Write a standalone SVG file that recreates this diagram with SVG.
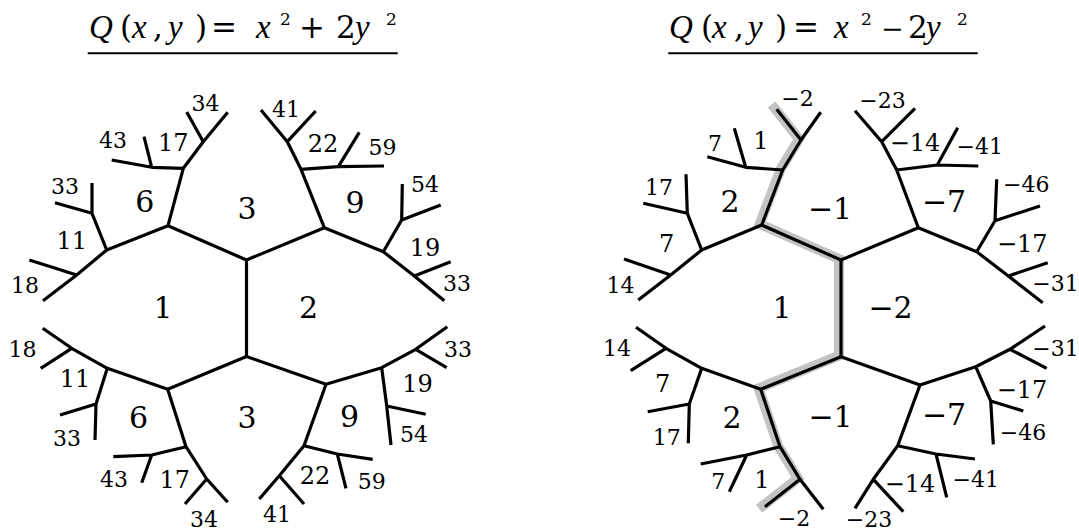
<svg xmlns="http://www.w3.org/2000/svg" width="1079" height="531" viewBox="0 0 1079 531">
<style>
.e{fill:none;stroke:#000;stroke-width:3.2;stroke-linejoin:round;stroke-linecap:butt}
.hl{fill:none;stroke:#c3c3c3;stroke-width:10;stroke-linejoin:miter;stroke-linecap:square}
.t{font-family:"DejaVu Serif",serif;fill:#000;text-anchor:middle}
.big{font-size:30px}
.mid{font-size:24px}
.lf{font-size:22px}
.ti{font-family:"DejaVu Serif",serif;font-size:31px;fill:#000}
.it{font-family:"Liberation Serif",serif;font-style:italic;font-size:33px}
.sup{font-size:17px}
.ul{stroke:#000;stroke-width:2}
</style>
<rect width="1079" height="531" fill="#fff"/>
<g id="title-left">
<text class="ti" y="38"><tspan class="it" x="89">Q</tspan><tspan x="120">(</tspan><tspan class="it" x="132">x</tspan><tspan x="153">,</tspan><tspan class="it" x="168">y</tspan><tspan x="195">)</tspan><tspan x="211">=</tspan><tspan class="it" x="256">x</tspan><tspan class="sup" x="280" y="25">2</tspan><tspan x="299" y="38">+</tspan><tspan x="336">2</tspan><tspan class="it" x="355">y</tspan><tspan class="sup" x="386" y="25">2</tspan></text>
<line class="ul" x1="87.7" y1="53.3" x2="397.7" y2="53.3"/>
</g>
<g id="title-right">
<text class="ti" y="38"><tspan class="it" x="669">Q</tspan><tspan x="701">(</tspan><tspan class="it" x="712">x</tspan><tspan x="734">,</tspan><tspan class="it" x="748">y</tspan><tspan x="775">)</tspan><tspan x="793">=</tspan><tspan class="it" x="834">x</tspan><tspan class="sup" x="861" y="25">2</tspan><tspan x="881" y="38" font-size="27">−</tspan><tspan x="908">2</tspan><tspan class="it" x="926">y</tspan><tspan class="sup" x="957" y="25">2</tspan></text>
<line class="ul" x1="668.3" y1="53.3" x2="977.7" y2="53.3"/>
</g>
<g id="highlight">
<path class="hl" transform="translate(-2,-1)" d="M776.7,109.3 L801,140 L782.7,170 L761.7,225 L841,260 L841,356.7 L760.7,389.3 L780,446.7 L800,479.3 L765,506.7"/>
</g>
<g id="connectors">
<path class="e" d="M246.5,260 L246.5,356.5"/>
<path class="e" d="M246.5,260 L168,225.7 L106.7,250 L76.7,275 L43,300.7 M76.7,275 L29.3,260 M106.7,250 L92,213.3 L92,183 M92,213.3 L55,202.7 M168,225.7 L183.3,168.3 L203.3,141.7 L186.7,112 M203.3,141.7 L227.7,112.3 M183.3,168.3 L151.7,167.3 L111.7,160 M151.7,167.3 L144,136.7"/>
<path class="e" d="M246.5,260 L324.3,227.7 L301,169.3 L287.3,141.7 L261,110 M287.3,141.7 L315.7,111 M301,169.3 L338.3,166.7 L384,166 M338.3,166.7 L359.3,132.3 M324.3,227.7 L383.3,251.7 L401.7,220 L402.3,184 M401.7,220 L440.7,205 M383.3,251.7 L414.3,276 L450.7,261.7 M414.3,276 L444.3,300.7"/>
<path class="e" d="M246.5,356.5 L167.7,389.3 L107.3,368.3 L71.7,348.3 L42.7,328.3 M71.7,348.3 L40.7,368.3 M107.3,368.3 L96,404 L95,440 M96,404 L60,415 M167.7,389.3 L186,446.7 L206.7,479 L227.7,502.3 M206.7,479 L185,504 M186,446.7 L151.7,455 L113.3,456.7 M151.7,455 L141.7,482.7"/>
<path class="e" d="M246.5,356.5 L326,384.3 L304,445.7 L279.3,475.7 L259.3,499 M279.3,475.7 L304,504 M304,445.7 L337.3,454 L372.7,459.3 M337.3,454 L346,488.3 M326,384.3 L381.7,367.7 L386.7,406 L391,445 M386.7,406 L425.7,414.3 M381.7,367.7 L415.7,349.3 L447.3,326.7 M415.7,349.3 L446.7,367.7"/>
<path class="e" d="M841,260 L841,356.7"/>
<path class="e" d="M841,260 L761.7,225 L701.7,250 L670.7,275 L638.3,300 M670.7,275 L624,259 M701.7,250 L687.3,213.3 L686,174.3 M687.3,213.3 L643.3,203.3 M761.7,225 L782.7,170 L801,140 L776.7,109.3 M801,140 L820.7,112.3 M782.7,170 L745.7,167.3 L707.3,156.7 M745.7,167.3 L734.3,128.3"/>
<path class="e" d="M841,260 L918.3,227.7 L896.7,170 L881.7,141.7 L855,110.7 M881.7,141.7 L915,108.3 M896.7,170 L937.3,165 L978.3,166 M937.3,165 L957.7,127.7 M918.3,227.7 L976.7,251.7 L995,220.7 L996.7,179.3 M995,220.7 L1040,206 M976.7,251.7 L1008.3,276 L1047.7,262.7 M1008.3,276 L1042.7,302.7"/>
<path class="e" d="M841,356.7 L760.7,389.3 L701.7,368.3 L666,348.3 L636,327.3 M666,348.3 L630.7,370.7 M701.7,368.3 L689.3,404 L688.3,443.3 M689.3,404 L647.7,411.7 M760.7,389.3 L780,446.7 L800,479.3 L823.3,509.3 M800,479.3 L765,506.7 M780,446.7 L746.7,455 L700.7,464 M746.7,455 L729.3,491.7"/>
<path class="e" d="M841,356.7 L920,385 L897.7,445.7 L873.3,479.3 L855,508.3 M873.3,479.3 L903.3,511.7 M897.7,445.7 L936,454 L975,459 M936,454 L946.7,497.3 M920,385 L975.7,366.7 L990.7,401 L993.3,444.3 M990.7,401 L1023.3,411 M975.7,366.7 L1010,349.3 L1045,326 M1010,349.3 L1046.7,368.3"/>
</g>
<g id="L1"><text class="t big" x="163" y="318">1</text></g>
<g id="L2"><text class="t big" x="308.5" y="318">2</text></g>
<g id="L3a"><text class="t big" x="247" y="219.3">3</text></g>
<g id="L3b"><text class="t big" x="247" y="427.7">3</text></g>
<g id="L6a"><text class="t big" x="144.7" y="211.7">6</text></g>
<g id="L6b"><text class="t big" x="138.5" y="427.7">6</text></g>
<g id="L9a"><text class="t big" x="355" y="212.7">9</text></g>
<g id="L9b"><text class="t big" x="349.5" y="427.3">9</text></g>
<g id="L11a"><text class="t mid" x="71.7" y="249.3">11</text></g>
<g id="L11b"><text class="t mid" x="75" y="387.3">11</text></g>
<g id="L17a"><text class="t mid" x="173.3" y="150.7">17</text></g>
<g id="L17b"><text class="t mid" x="174.7" y="488.3">17</text></g>
<g id="L22a"><text class="t mid" x="323" y="151.7">22</text></g>
<g id="L22b"><text class="t mid" x="315" y="484">22</text></g>
<g id="L19a"><text class="t mid" x="425" y="256">19</text></g>
<g id="L19b"><text class="t mid" x="417.5" y="391.7">19</text></g>
<g id="L18a"><text class="t lf" x="25" y="293.3">18</text></g>
<g id="L18b"><text class="t lf" x="22.5" y="357.3">18</text></g>
<g id="L33a"><text class="t lf" x="65" y="194">33</text></g>
<g id="L33b"><text class="t lf" x="67" y="445.7">33</text></g>
<g id="L43a"><text class="t lf" x="113" y="148.3">43</text></g>
<g id="L43b"><text class="t lf" x="114" y="487.3">43</text></g>
<g id="L34a"><text class="t lf" x="205.5" y="110.7">34</text></g>
<g id="L34b"><text class="t lf" x="204" y="526.5">34</text></g>
<g id="L41a"><text class="t lf" x="286" y="117.3">41</text></g>
<g id="L41b"><text class="t lf" x="277" y="522">41</text></g>
<g id="L59a"><text class="t lf" x="382.5" y="155">59</text></g>
<g id="L59b"><text class="t lf" x="371.7" y="489">59</text></g>
<g id="L54a"><text class="t lf" x="425" y="191.7">54</text></g>
<g id="L54b"><text class="t lf" x="414" y="441.7">54</text></g>
<g id="L33c"><text class="t lf" x="457" y="291">33</text></g>
<g id="L33d"><text class="t lf" x="458" y="357.3">33</text></g>
<g id="R1"><text class="t big" x="782" y="318">1</text></g>
<g id="Rm2"><text class="t big" x="890.5" y="318">−2</text></g>
<g id="Rm1a"><text class="t big" x="830" y="219.3">−1</text></g>
<g id="Rm1b"><text class="t big" x="830.5" y="426.7">−1</text></g>
<g id="R2a"><text class="t big" x="730" y="211.7">2</text></g>
<g id="R2b"><text class="t big" x="732" y="428.3">2</text></g>
<g id="Rm7a"><text class="t big" x="944" y="211.7">−7</text></g>
<g id="Rm7b"><text class="t big" x="944" y="425">−7</text></g>
<g id="R7a"><text class="t mid" x="666.7" y="251.7">7</text></g>
<g id="R7b"><text class="t mid" x="662.7" y="391.7">7</text></g>
<g id="R1a"><text class="t mid" x="761" y="149.3">1</text></g>
<g id="R1b"><text class="t mid" x="762" y="488.3">1</text></g>
<g id="Rm14a"><text class="t mid" x="915" y="150.7">−14</text></g>
<g id="Rm14b"><text class="t mid" x="910" y="491.7">−14</text></g>
<g id="Rm17a"><text class="t mid" x="1022.3" y="251.7">−17</text></g>
<g id="Rm17b"><text class="t mid" x="1022" y="398.3">−17</text></g>
<g id="R14a"><text class="t lf" x="620.5" y="292.7">14</text></g>
<g id="R14b"><text class="t lf" x="617" y="356">14</text></g>
<g id="R17a"><text class="t lf" x="659" y="195">17</text></g>
<g id="R17b"><text class="t lf" x="666.7" y="445">17</text></g>
<g id="R7c"><text class="t lf" x="715" y="150.7">7</text></g>
<g id="R7d"><text class="t lf" x="718.3" y="489.3">7</text></g>
<g id="Rm2a"><text class="t lf" x="797.5" y="106">−2</text></g>
<g id="Rm2b"><text class="t lf" x="794" y="525.5">−2</text></g>
<g id="Rm23a"><text class="t lf" x="882.5" y="108.3">−23</text></g>
<g id="Rm23b"><text class="t lf" x="869" y="527">−23</text></g>
<g id="Rm41a"><text class="t lf" x="979.7" y="154">−41</text></g>
<g id="Rm41b"><text class="t lf" x="975.7" y="486.7">−41</text></g>
<g id="Rm46a"><text class="t lf" x="1026.3" y="191.7">−46</text></g>
<g id="Rm46b"><text class="t lf" x="1023" y="440">−46</text></g>
<g id="Rm31a"><text class="t lf" x="1055.5" y="290.7">−31</text></g>
<g id="Rm31b"><text class="t lf" x="1055.5" y="356">−31</text></g>
</svg>
